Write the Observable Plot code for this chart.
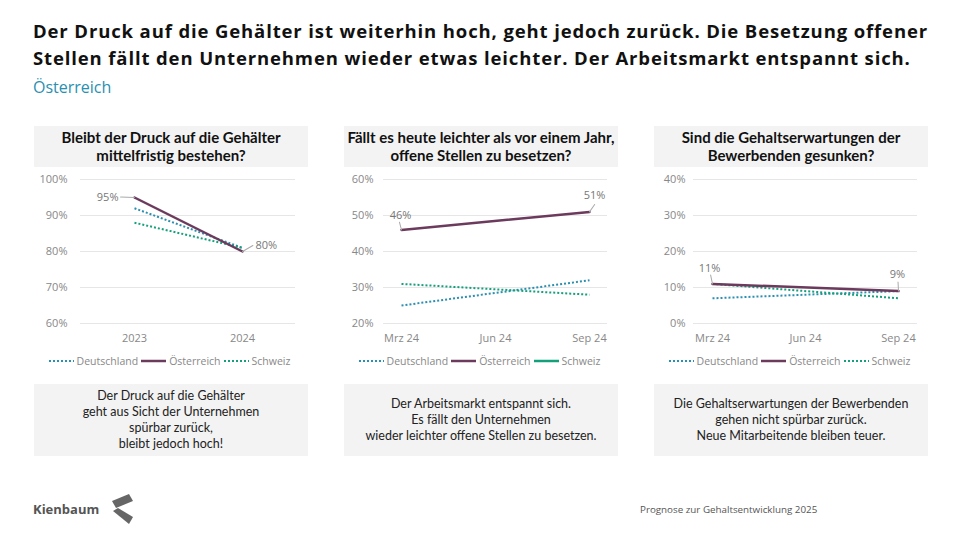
<!DOCTYPE html>
<html><head><meta charset="utf-8">
<script src="https://cdn.jsdelivr.net/npm/d3@7"></script>
<script src="https://cdn.jsdelivr.net/npm/@observablehq/plot@0.6"></script>
<style>
html,body{margin:0;padding:0;background:#fff;}
#root{position:relative;width:960px;height:540px;overflow:hidden;font-family:"Open Sans","Noto Sans",sans-serif;}
.abs{position:absolute;}
.title{left:33px;top:17px;font-size:18.5px;font-weight:700;color:#111;line-height:27px;white-space:nowrap;}
.sub{left:33px;top:76px;font-size:16px;color:#2a8fb0;}
.ptitle{background:#f3f3f3;width:274px;height:41px;top:126px;display:flex;align-items:center;justify-content:center;text-align:center;font-family:Lato,"Noto Sans",sans-serif;font-weight:700;font-size:15px;line-height:17.5px;color:#111;white-space:nowrap;}
.legend{top:354px;width:274px;display:flex;justify-content:center;align-items:center;font-size:10.5px;color:#888;white-space:nowrap;}
.legend span{margin-right:3px;}
.legend svg{margin-right:3px;}
.note{background:#f3f3f3;width:274px;height:72px;top:384px;display:flex;align-items:center;justify-content:center;text-align:center;font-family:Lato,"Noto Sans",sans-serif;font-size:12.5px;line-height:16px;color:#222;}
.brand{left:33px;top:500px;font-size:13px;font-weight:700;color:#555;}
.foot{left:640px;top:503px;font-size:9.8px;color:#555;}
</style></head>
<body><div id="root"></div>
<script>
// ---------- data ----------
const headline = ["Der Druck auf die Gehälter ist weiterhin hoch, geht jedoch zurück. Die Besetzung offener",
  "Stellen fällt den Unternehmen wieder etwas leichter. Der Arbeitsmarkt entspannt sich."];
const subtitle = "Österreich";
const seriesNames = ["Deutschland", "Österreich", "Schweiz"];
const seriesColors = ["#2a8fb0", "#6b3a5c", "#14a07a"];

const p1Title = ["Bleibt der Druck auf die Gehälter", "mittelfristig bestehen?"];
const p1Axis = ["2023", "2024"];
const p1Periods = ["2023", "2024"];
const p1Deutschland = [92, 81];
const p1Oesterreich = [95, 80];
const p1Schweiz = [88, 81];
const p1Ticks = [60, 70, 80, 90, 100];

const p2Title = ["Fällt es heute leichter als vor einem Jahr,", "offene Stellen zu besetzen?"];
const p2Axis = ["Mrz 24", "Jun 24", "Sep 24"];
const p2Periods = ["Mrz 24", "Sep 24"];
const p2Deutschland = [25, 32];
const p2Oesterreich = [46, 51];
const p2Schweiz = [31, 28];
const p2Ticks = [20, 30, 40, 50, 60];

const p3Title = ["Sind die Gehaltserwartungen der", "Bewerbenden gesunken?"];
const p3Axis = ["Mrz 24", "Jun 24", "Sep 24"];
const p3Periods = ["Mrz 24", "Sep 24"];
const p3Deutschland = [7, 9];
const p3Oesterreich = [11, 9];
const p3Schweiz = [11, 7];
const p3Ticks = [0, 10, 20, 30, 40];

const notes = [
  ["Der Druck auf die Gehälter", "geht aus Sicht der Unternehmen", "spürbar zurück,", "bleibt jedoch hoch!"],
  ["Der Arbeitsmarkt entspannt sich.", "Es fällt den Unternehmen", "wieder leichter offene Stellen zu besetzen."],
  ["Die Gehaltserwartungen der Bewerbenden", "gehen nicht spürbar zurück.", "Neue Mitarbeitende bleiben teuer."]
];
const footer = "Prognose zur Gehaltsentwicklung 2025";
const brand = "Kienbaum";

// ---------- layout ----------
const root = document.getElementById("root");
function div(cls, html, style) {
  const d = document.createElement("div");
  d.className = "abs " + cls;
  d.innerHTML = html;
  Object.assign(d.style, style || {});
  root.appendChild(d);
  return d;
}
const t = div("title", headline.map(l => `<span style="display:inline-block">${l}</span>`).join("<br>"));
// fit first headline line to reference width
{
  const s = t.querySelector("span");
  const w = s.getBoundingClientRect().width;
  const target = 895;
  const chars = headline[0].length;
  t.style.letterSpacing = ((target - w) / chars) + "px";
}
div("sub", subtitle);

const leader = {draw(ctx, l) { ctx.moveTo(0, 0); ctx.lineTo(0, -l); }};
const FONT = "'Open Sans', 'Noto Sans', sans-serif";

function panel(cfg) {
  const rows = [];
  cfg.series.forEach((vals, si) => vals.forEach((v, i) => rows.push({s: seriesNames[si], x: cfg.periods[i], y: v})));
  const aut = rows.filter(d => d.s === "Österreich");
  const first = aut.slice(0, 1), last = aut.slice(-1);
  const dotted = {strokeWidth: 2, strokeDasharray: "2,2", strokeLinecap: "butt"};
  const marks = [
    Plot.gridY(cfg.ticks, {stroke: "#e6e6e6", strokeOpacity: 1, strokeWidth: 1}),
    Plot.axisY(cfg.ticks, {tickSize: 0, tickPadding: cfg.tickPad, tickFormat: d => d + "%", fontSize: 11, fill: "#888", label: null}),
    Plot.axisX({tickSize: 0, tickPadding: 11, fontSize: 11, fill: "#888", label: null}),
    Plot.line(rows.filter(d => d.s === "Deutschland"), {x: "x", y: "y", stroke: seriesColors[0], ...dotted}),
    Plot.line(rows.filter(d => d.s === "Schweiz"), {x: "x", y: "y", stroke: seriesColors[2], ...dotted}),
    Plot.line(aut, {x: "x", y: "y", stroke: seriesColors[1], strokeWidth: 2.5}),
    Plot.vector(first, {x: "x", y: "y", length: cfg.l1.len, rotate: cfg.l1.rot, shape: leader, stroke: "#aaa", strokeWidth: 1, anchor: "start"}),
    Plot.vector(last, {x: "x", y: "y", length: cfg.l2.len, rotate: cfg.l2.rot, shape: leader, stroke: "#aaa", strokeWidth: 1, anchor: "start"}),
    Plot.text(first, {x: "x", y: "y", text: d => d.y + "%", dx: cfg.l1.dx, dy: cfg.l1.dy, textAnchor: cfg.l1.anchor, fill: "#777", fontSize: 11}),
    Plot.text(last, {x: "x", y: "y", text: d => d.y + "%", dx: cfg.l2.dx, dy: cfg.l2.dy, textAnchor: cfg.l2.anchor, fill: "#777", fontSize: 11})
  ];
  const svg = Plot.plot({
    width: 274, height: 182,
    marginLeft: cfg.ml, marginRight: cfg.mr, marginTop: 11, marginBottom: 27,
    style: {fontFamily: FONT, background: "transparent", overflow: "visible"},
    x: {type: "point", domain: cfg.axis, padding: cfg.pad, axis: null},
    y: {domain: [cfg.ticks[0], cfg.ticks[cfg.ticks.length - 1]], axis: null},
    marks
  });
  const wrap = div("", "", {left: cfg.left + "px", top: "168px"});
  wrap.appendChild(svg);
  div("ptitle", cfg.title.join("<br>"), {left: cfg.left + "px"});
  // legend
  const lg = div("legend", "", {left: cfg.left + "px"});
  seriesNames.forEach((n, i) => {
    const solid = n === "Österreich" || (cfg.solidSchweiz && n === "Schweiz");
    const w = 25;
    lg.insertAdjacentHTML("beforeend",
      `<svg width="${w}" height="6"><line x1="0" x2="${w}" y1="3" y2="3" stroke="${seriesColors[i]}" stroke-width="${solid ? 2.5 : 2}" ${solid ? "" : 'stroke-dasharray="2,2"'}/></svg><span>${n}</span>`);
  });
  div("note", cfg.note.join("<br>"), {left: cfg.left + "px"});
}

panel({left: 34, title: p1Title, axis: p1Axis, periods: p1Periods, series: [p1Deutschland, p1Oesterreich, p1Schweiz],
  ticks: p1Ticks, ml: 46, mr: 13, pad: 0.49, tickPad: 13, note: notes[0],
  l1: {len: 14, rot: -88, dx: -16, dy: 0, anchor: "end"},
  l2: {len: 12, rot: 60, dx: 13, dy: -6, anchor: "start"}});
panel({left: 344, title: p2Title, axis: p2Axis, periods: p2Periods, series: [p2Deutschland, p2Oesterreich, p2Schweiz],
  ticks: p2Ticks, ml: 39, mr: 11, pad: 0.18, tickPad: 10, note: notes[1], solidSchweiz: true,
  l1: {len: 8, rot: -15, dx: -1, dy: -14, anchor: "middle"},
  l2: {len: 9, rot: 35, dx: 5, dy: -16, anchor: "middle"}});
panel({left: 654, title: p3Title, axis: p3Axis, periods: p3Periods, series: [p3Deutschland, p3Oesterreich, p3Schweiz],
  ticks: p3Ticks, ml: 39, mr: 11, pad: 0.2, tickPad: 8, note: notes[2],
  l1: {len: 9, rot: -12, dx: -3, dy: -15, anchor: "middle"},
  l2: {len: 9, rot: -3, dx: -1, dy: -17, anchor: "middle"}});

// footer
div("brand", brand);
div("foot", footer);
div("", `<svg width="26" height="32" viewBox="0 0 26 32"><polygon points="2,7 19,0 23,7 6,14" fill="#666"/><polygon points="3,17 8,14 23,23 19,30" fill="#666"/></svg>`, {left: "110px", top: "494px"});
</script>
</body></html>
